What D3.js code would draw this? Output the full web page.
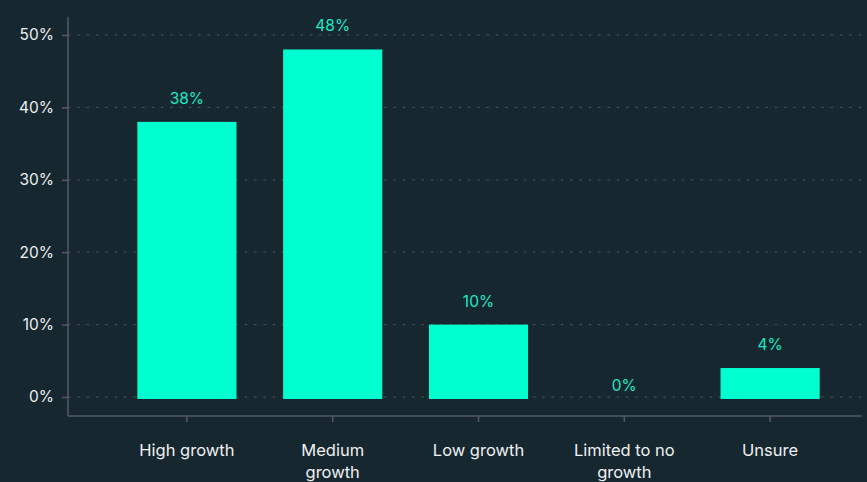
<!DOCTYPE html>
<html>
<head>
<meta charset="utf-8">
<script src="https://cdn.jsdelivr.net/npm/d3@7"></script>
<style>
  html, body { margin: 0; padding: 0; background: #172730; }
  svg { display: block; }
</style>
</head>
<body>
<svg id="chart" width="867" height="482"></svg>
<script>
// Expected growth responses
const categories = ["High growth", "Medium growth", "Low growth", "Limited to no growth", "Unsure"];
const values = [38, 48, 10, 0, 4];
const yTicks = [0, 10, 20, 30, 40, 50];

const W = 867, H = 482;
const bg = "#172730";
const barColor = "#00ffd0";
const labelColor = "#1fe8c4";
const axisColor = "#545866";
const gridColor = "#4a5862";
const textColor = "#eef0f2";
const font = "Inter, 'Noto Sans', sans-serif";

const svg = d3.select("#chart");
svg.append("rect").attr("width", W).attr("height", H).attr("fill", bg);

const x = d3.scaleBand()
  .domain(categories)
  .range([114, 843])
  .paddingInner(0.32)
  .paddingOuter(0.16);

const y = d3.scaleLinear().domain([0, 50]).range([397, 35]);

// Gridlines
svg.append("g")
  .selectAll("line")
  .data(yTicks)
  .join("line")
  .attr("x1", 68).attr("x2", 862)
  .attr("y1", d => y(d)).attr("y2", d => y(d))
  .attr("stroke", gridColor)
  .attr("stroke-width", 1)
  .attr("stroke-dasharray", "2.5 6.8");

// Y axis
const yAxis = svg.append("g")
  .attr("transform", "translate(68,0)")
  .call(d3.axisLeft(y).tickValues(yTicks).tickFormat(d => d + "%").tickSize(6).tickPadding(8));
yAxis.select(".domain").attr("d", `M0,17V416`).attr("stroke", axisColor).attr("stroke-width", 1.5);
yAxis.selectAll(".tick line").attr("stroke", axisColor).attr("stroke-width", 1.5);
yAxis.selectAll(".tick text")
  .attr("fill", textColor)
  .style("font-family", font)
  .style("font-size", "15.5px");

// X axis
const xAxis = svg.append("g")
  .attr("transform", "translate(0,416)")
  .call(d3.axisBottom(x).tickSize(6).tickFormat(""));
xAxis.select(".domain").attr("d", "M68,0H862").attr("stroke", axisColor).attr("stroke-width", 1.5);
xAxis.selectAll(".tick line").attr("stroke", axisColor).attr("stroke-width", 1.5);

// Category labels, wrapped onto two lines where needed
const wrap = {
  "High growth": ["High growth"],
  "Medium growth": ["Medium", "growth"],
  "Low growth": ["Low growth"],
  "Limited to no growth": ["Limited to no", "growth"],
  "Unsure": ["Unsure"]
};
svg.append("g")
  .selectAll("text")
  .data(categories)
  .join("text")
  .attr("x", d => x(d) + x.bandwidth() / 2)
  .attr("y", 456)
  .attr("text-anchor", "middle")
  .attr("fill", textColor)
  .style("font-family", font)
  .style("font-size", "16.5px")
  .selectAll("tspan")
  .data(d => wrap[d])
  .join("tspan")
  .attr("x", function () { return d3.select(this.parentNode).attr("x"); })
  .attr("dy", (d, i) => i === 0 ? 0 : 22)
  .text(d => d);

// Bars (zero values draw no bar)
svg.append("g")
  .selectAll("rect")
  .data(categories)
  .join("rect")
  .attr("x", d => x(d))
  .attr("width", x.bandwidth())
  .attr("y", (d, i) => y(values[i]))
  .attr("height", (d, i) => values[i] > 0 ? y(0) - y(values[i]) + 2 : 0)
  .attr("fill", barColor);

// Value labels
svg.append("g")
  .selectAll("text")
  .data(categories)
  .join("text")
  .attr("x", d => x(d) + x.bandwidth() / 2)
  .attr("y", (d, i) => y(values[i]) - (values[i] > 0 ? 18 : 6))
  .attr("text-anchor", "middle")
  .attr("fill", labelColor)
  .style("font-family", font)
  .style("font-size", "15.5px")
  .text((d, i) => values[i] + "%");
</script>
</body>
</html>
